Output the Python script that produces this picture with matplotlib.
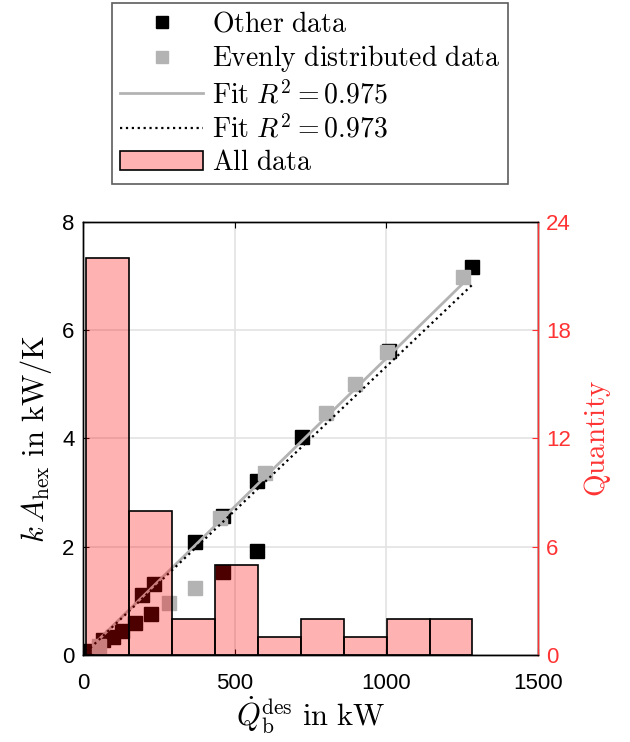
import numpy as np
import matplotlib
matplotlib.use("Agg")
import matplotlib.pyplot as plt
from matplotlib import rcParams

# heat exchanger size vs. boiler design load
other_q = [10, 67, 98, 130, 171, 196, 224, 235, 369, 460, 460, 575, 575, 721, 1009, 1284]
other_ka = [0.07, 0.28, 0.34, 0.44, 0.585, 1.11, 0.76, 1.31, 2.08, 2.57, 1.54, 3.22, 1.93, 4.02, 5.62, 7.17]

even_q = [54, 285, 369, 452, 600, 801, 897, 1001, 1253]
even_ka = [0.17, 0.955, 1.24, 2.53, 3.36, 4.48, 5.0, 5.59, 6.99]

# histogram of all plants (9 bins between min and max load)
hist_counts = [22, 8, 2, 5, 1, 2, 1, 2, 2]

# linear fits through origin: slope in (kW/K)/kW
fit_even = 0.00548
fit_all = 0.00533

rcParams['mathtext.fontset'] = 'cm'
rcParams['font.family'] = ['Liberation Sans', 'DejaVu Sans']
rcParams['axes.linewidth'] = 1.0

red = '#ff3333'
gray = '#b3b3b3'

fig = plt.figure(figsize=(6.3, 7.42), dpi=100)
ax = fig.add_axes([0.1317, 0.1173, 0.7222, 0.5835])

ax.plot(other_q, other_ka, 's', color='k', markersize=10, label=r'$\mathrm{Other\ data}$', zorder=3)
ax.plot(even_q, even_ka, 's', color=gray, markersize=10, label=r'$\mathrm{Evenly\ distributed\ data}$', zorder=4)

xe = np.linspace(min(even_q), max(even_q), 50)
ax.plot(xe, fit_even * xe, '-', color=gray, linewidth=2, label=r'$\mathrm{Fit}\ R^2 = 0.975$', zorder=5)
all_q = other_q + even_q
xa = np.linspace(min(all_q), max(all_q), 50)
ax.plot(xa, fit_all * xa, ':', color='k', linewidth=1.6, label=r'$\mathrm{Fit}\ R^2 = 0.973$', zorder=6)

ax.set_xlim(0, 1500)
ax.set_ylim(0, 8)
ax.set_xticks([0, 500, 1000, 1500])
ax.set_yticks([0, 2, 4, 6, 8])
ax.grid(True, color='#e3e3e3', linewidth=1.2)
ax.set_axisbelow(True)
ax.tick_params(direction='in', length=4, labelsize=16, top=True, right=False, pad=6)
ax.tick_params(axis='x', pad=13)
ax.set_xlabel(r'$\dot{Q}_\mathrm{b}^\mathrm{des}\ \mathrm{in\ kW}$', fontsize=22, labelpad=0)
ax.set_ylabel(r'$k\,A_\mathrm{hex}\ \mathrm{in\ kW/K}$', fontsize=22, labelpad=6)

# quantity axis on the right, bars drawn over the scatter
ax2 = ax.twinx()
edges = np.linspace(min(all_q), max(all_q), len(hist_counts) + 1)
ax2.bar(edges[:-1], hist_counts, width=np.diff(edges), align='edge',
        facecolor=(1, 0, 0, 0.3), edgecolor='k', linewidth=1.2, label=r'$\mathrm{All\ data}$')
ax2.set_ylim(0, 24)
ax2.set_yticks([0, 6, 12, 18, 24])
ax2.tick_params(direction='in', length=4, labelsize=16, colors=red, pad=6)
ax2.spines['right'].set_color(red)
ax2.set_ylabel(r'$\mathrm{Quantity}$', fontsize=21, color=red, labelpad=8)

h1, l1 = ax.get_legend_handles_labels()
h2, l2 = ax2.get_legend_handles_labels()
leg = fig.legend(h1 + h2, l1 + l2, loc='upper center', bbox_to_anchor=(0.492, 0.996),
                 fontsize=20, frameon=True, fancybox=False, edgecolor='#333333',
                 handlelength=3.0, handletextpad=0.3, labelspacing=0.22, borderpad=0.3,
                 borderaxespad=0, markerscale=0.85)
leg.get_frame().set_linewidth(1.2)

fig.savefig('out.png', dpi=100)
